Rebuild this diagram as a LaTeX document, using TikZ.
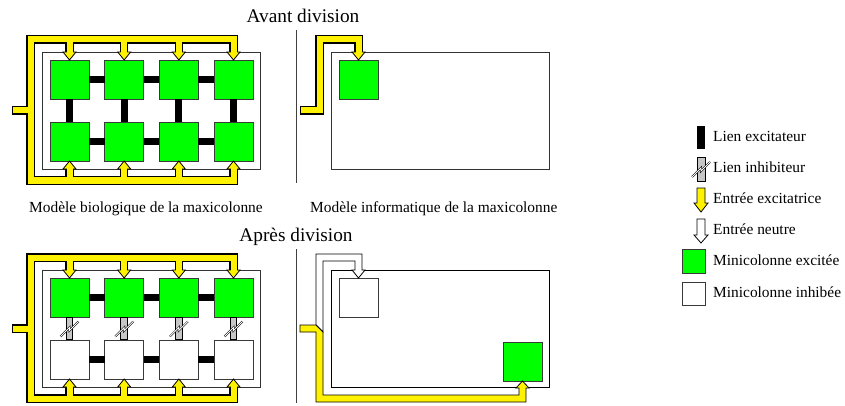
\documentclass[tikz,border=0pt]{standalone}
\usepackage{fontspec}
\setmainfont{Liberation Serif}
\usetikzlibrary{calc}
\begin{document}
\begin{tikzpicture}[x=1pt,y=-1pt,
  mc/.style={rectangle, minimum size=39pt, inner sep=0pt, outer sep=0pt, draw=gray!45!black, line width=0.8pt},
  exc/.style={mc, fill=green},
  inh/.style={mc, fill=white},
  elink/.style={draw=black, line width=7pt},
  ilinkout/.style={draw=black, line width=7.6pt},
  ilinkin/.style={draw=gray!45, line width=5.8pt},
  bolt/.style={draw=black, double=white, double distance=0.9pt, line width=0.5pt},
  container/.style={rectangle, draw=gray!40!black, line width=0.9pt, inner sep=0pt, outer sep=0pt},
  pipeout/.style={draw=black, line width=8.2pt},
  pipein/.style={draw=yellow, line width=6pt},
  head/.style={fill=yellow, draw=black, line width=0.8pt, line join=miter},
  whitepipe/.style={fill=white, draw=black, line width=0.8pt, line join=miter},
  sep/.style={draw=gray!50!black, line width=0.8pt},
  small/.style={font=\fontsize{15.4}{18}\selectfont, inner sep=0pt},
  big/.style={font=\fontsize{19.3}{23}\selectfont, inner sep=0pt},
  legbox/.style={rectangle, inner sep=0pt, outer sep=0pt, minimum width=8pt, minimum height=23pt},
  legsq/.style={rectangle, inner sep=0pt, outer sep=0pt, draw=gray!45!black, line width=0.8pt, minimum width=23pt, minimum height=24pt}
]
\useasboundingbox (0,0) rectangle (845,406);

% ---------------- titles
\node[big, anchor=base] (h1) at (303,23) {Avant division};
\node[big, anchor=base] (h2) at (296,241) {Après division};
\node[small, anchor=base west] (l1) at (29,212) {Modèle biologique de la maxicolonne};
\node[small, anchor=base west] (l2) at (310,212) {Modèle informatique de la maxicolonne};

% separators
\coordinate (s1a) at (296,30);  \coordinate (s1b) at (296,183);
\coordinate (s2a) at (296,249); \coordinate (s2b) at (296,403);
\draw[sep] (s1a) -- (s1b);
\draw[sep] (s2a) -- (s2b);

% ================= TOP LEFT (biological, before)
\node[container, minimum width=218pt, minimum height=117pt] (tbox) at (151,110.5) {};
\foreach \i in {0,...,3} {
  \pgfmathsetmacro\xx{69.5+54.67*\i}
  \node[exc] (tu\i) at (\xx,79.5) {};
  \node[exc] (td\i) at (\xx,141.5) {};
}
\foreach \i/\j in {0/1,1/2,2/3} {
  \draw[elink] (tu\i.east) -- (tu\j.west);
  \draw[elink] (td\i.east) -- (td\j.west);
}
\foreach \i in {0,...,3} { \draw[elink] (tu\i.south) -- (td\i.north); }
\coordinate (ttb) at (0,39.5);
\coordinate (tbb) at (0,180.5);
\coordinate (tin) at (12,110.5);
\coordinate (tin2) at (13,110.5);
\coordinate (tlc) at (30.5,39.5);
\coordinate (tlb) at (30.5,180.5);
% black outline pass
\draw[pipeout] ($(tu3.north)+(0,-7.4)$) |- (tlc) -- (tlb) -| ($(td3.south)+(0,7.4)$);
\foreach \i in {0,1,2} {
  \draw[pipeout] (tu\i.north |- ttb) -- ($(tu\i.north)+(0,-7.4)$);
  \draw[pipeout] (td\i.south |- tbb) -- ($(td\i.south)+(0,7.4)$);
}
\draw[pipeout] (tin) -- (tin -| tlc);
% arrow heads
\foreach \i in {0,...,3} {
  \draw[head] ($(tu\i.north)+(-6.5,-8)$) -- ($(tu\i.north)+(6.5,-8)$) -- (tu\i.north) -- cycle;
  \draw[head] ($(td\i.south)+(-6.5,8)$) -- ($(td\i.south)+(6.5,8)$) -- (td\i.south) -- cycle;
}
% yellow pass
\draw[pipein] ($(tu3.north)+(0,-7.4)$) |- (tlc) -- (tlb) -| ($(td3.south)+(0,7.4)$);
\foreach \i in {0,1,2} {
  \draw[pipein] (tu\i.north |- ttb) -- ($(tu\i.north)+(0,-7.4)$);
  \draw[pipein] (td\i.south |- tbb) -- ($(td\i.south)+(0,7.4)$);
}
\draw[pipein] (tin2) -- (tin -| tlc);

% ================= BOTTOM LEFT (biological, after)
\node[container, minimum width=218pt, minimum height=117pt] (bbox) at (151,328.5) {};
\foreach \i in {0,...,3} {
  \pgfmathsetmacro\xx{69.5+54.67*\i}
  \node[exc] (bu\i) at (\xx,297.5) {};
  \node[inh] (bd\i) at (\xx,359.5) {};
}
\foreach \i/\j in {0/1,1/2,2/3} {
  \draw[elink] (bu\i.east) -- (bu\j.west);
  \draw[elink] (bd\i.east) -- (bd\j.west);
}
\foreach \i in {0,...,3} {
  \draw[ilinkout] (bu\i.south) -- (bd\i.north);
  \draw[ilinkin] ($(bu\i.south)+(0,0.6)$) -- ($(bd\i.north)+(0,-0.6)$);
  \path (bu\i.south) -- (bd\i.north) coordinate[midway] (bm\i);
  \draw[bolt] ($(bm\i)+(-9,8)$) -- ($(bm\i)+(0,-1)$) -- ($(bm\i)+(0,2)$) -- ($(bm\i)+(9,-7)$);
}
\coordinate (btb) at (0,257.5);
\coordinate (bbb) at (0,398.5);
\coordinate (bin) at (12,328.5);
\coordinate (bin2) at (13,328.5);
\coordinate (blc) at (30.5,257.5);
\coordinate (blb) at (30.5,398.5);
\draw[pipeout] ($(bu3.north)+(0,-7.4)$) |- (blc) -- (blb) -| ($(bd3.south)+(0,7.4)$);
\foreach \i in {0,1,2} {
  \draw[pipeout] (bu\i.north |- btb) -- ($(bu\i.north)+(0,-7.4)$);
  \draw[pipeout] (bd\i.south |- bbb) -- ($(bd\i.south)+(0,7.4)$);
}
\draw[pipeout] (bin) -- (bin -| blc);
\foreach \i in {0,...,3} {
  \draw[head] ($(bu\i.north)+(-6.5,-8)$) -- ($(bu\i.north)+(6.5,-8)$) -- (bu\i.north) -- cycle;
  \draw[head] ($(bd\i.south)+(-6.5,8)$) -- ($(bd\i.south)+(6.5,8)$) -- (bd\i.south) -- cycle;
}
\draw[pipein] ($(bu3.north)+(0,-7.4)$) |- (blc) -- (blb) -| ($(bd3.south)+(0,7.4)$);
\foreach \i in {0,1,2} {
  \draw[pipein] (bu\i.north |- btb) -- ($(bu\i.north)+(0,-7.4)$);
  \draw[pipein] (bd\i.south |- bbb) -- ($(bd\i.south)+(0,7.4)$);
}
\draw[pipein] (bin2) -- (bin -| blc);

% ================= TOP RIGHT (computer, before)
\node[container, minimum width=218pt, minimum height=117pt] (trbox) at (440,110.5) {};
\node[exc] (tc) at (358.5,79.5) {};
\coordinate (rin) at (300,110.5);
\coordinate (rin2) at (301,110.5);
\coordinate (rc1) at (319.5,110.5);
\coordinate (rc2) at (319.5,39.5);
\draw[pipeout] (rin) -- (rc1) -- (rc2) -| ($(tc.north)+(0,-7.4)$);
\draw[head] ($(tc.north)+(-6.5,-8)$) -- ($(tc.north)+(6.5,-8)$) -- (tc.north) -- cycle;
\draw[pipein] (rin2) -- (rc1) -- (rc2) -| ($(tc.north)+(0,-7.4)$);

% ================= BOTTOM RIGHT (computer, after)
\node[container, draw=black, minimum width=218pt, minimum height=117pt] (brbox) at (440,328.5) {};
\node[inh] (bw) at (358.5,297.5) {};
\node[exc] (bg) at (522.5,361.5) {};
\draw[whitepipe] (316,325) -- (316,254) -- (362,254) -- (362,270) -- (365,270) -- (bw.north)
  -- (352,270) -- (355,270) -- (355,261) -- (323,261) -- (323,332) -- cycle;
\draw[head] (300,325) -- (316,325) -- (323,332) -- (323,395) -- (519,395) -- (519,388) -- (516,388)
  -- (bg.south) -- (529,388) -- (526,388) -- (526,402) -- (316,402) -- (316,332) -- (300,332) -- cycle;

% ================= LEGEND
\node[legbox, fill=black] (k1) at (701,137.5) {};
\node[small, anchor=base west] (t1) at (713,142) {Lien excitateur};
\node[legbox, fill=gray!45, draw=black, line width=0.6pt, minimum height=24pt] (k2) at (701,169) {};
\draw[bolt] ($(k2.center)+(-9,8)$) -- ($(k2.center)+(0,-1)$) -- ($(k2.center)+(0,2)$) -- ($(k2.center)+(9,-7)$);
\node[small, anchor=base west] (t2) at (713,173) {Lien inhibiteur};
\draw[head] (697,188) -- (705,188) -- (705,203) -- (708,203) -- (701,212) -- (694,203) -- (697,203) -- cycle;
\node[small, anchor=base west] (t3) at (713,203) {Entrée excitatrice};
\draw[whitepipe] (697,219) -- (705,219) -- (705,235) -- (708,235) -- (701,243) -- (694,235) -- (697,235) -- cycle;
\node[small, anchor=base west] (t4) at (713,234) {Entrée neutre};
\node[legsq, fill=green] (k5) at (693.5,261) {};
\node[small, anchor=base west] (t5) at (713,265) {Minicolonne excitée};
\node[legsq, fill=white, minimum height=23pt] (k6) at (693.5,293.5) {};
\node[small, anchor=base west] (t6) at (713,297) {Minicolonne inhibée};
\end{tikzpicture}
\end{document}
